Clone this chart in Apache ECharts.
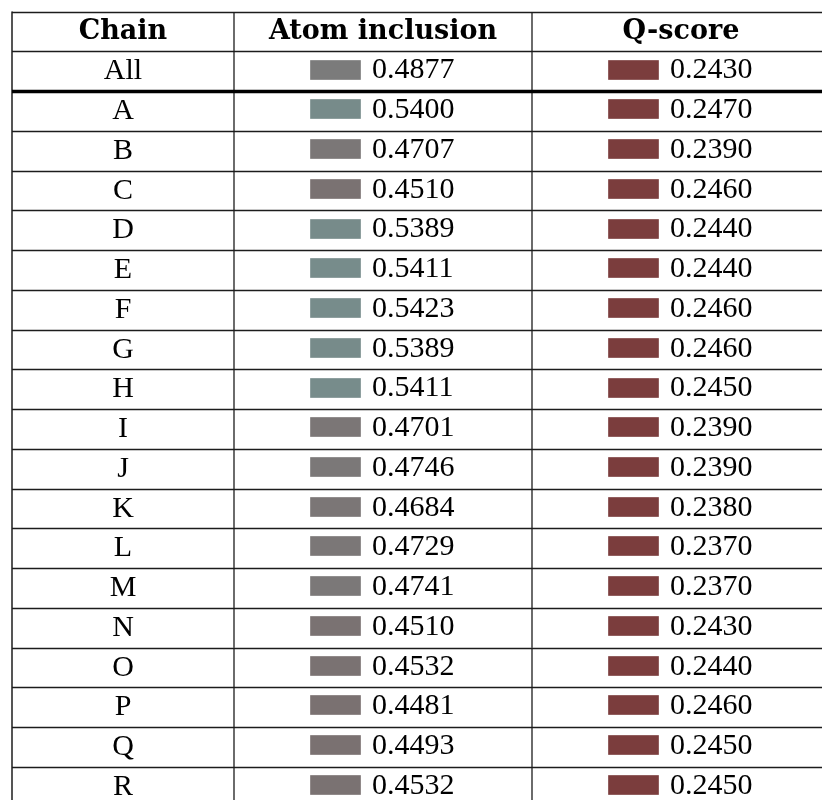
<!DOCTYPE html>
<html>
<head>
<meta charset="utf-8">
<script src="https://cdn.jsdelivr.net/npm/echarts@6/dist/echarts.min.js"></script>
<style>
html, body { margin: 0; padding: 0; background: #ffffff; }
#c { width: 822px; height: 800px; }
</style>
</head>
<body>
<div id="c"></div>
<script>
// ---- data ----
const headers = ['Chain', 'Atom inclusion', 'Q-score'];
const chains = ['All', 'A', 'B', 'C', 'D', 'E', 'F', 'G', 'H', 'I', 'J', 'K', 'L', 'M', 'N', 'O', 'P', 'Q', 'R'];
const atomInclusion = [0.4877, 0.5400, 0.4707, 0.4510, 0.5389, 0.5411, 0.5423, 0.5389, 0.5411, 0.4701, 0.4746, 0.4684, 0.4729, 0.4741, 0.4510, 0.4532, 0.4481, 0.4493, 0.4532];
const qScore = [0.2430, 0.2470, 0.2390, 0.2460, 0.2440, 0.2440, 0.2460, 0.2460, 0.2450, 0.2390, 0.2390, 0.2380, 0.2370, 0.2370, 0.2430, 0.2440, 0.2460, 0.2450, 0.2450];

// ---- layout (not data) ----
const colEdges = [0, 222, 520, 818];
const ROW_H = 39.74;
const LINE = '#1c1c1c';
const SERIF = '"Liberation Serif", "Times New Roman", serif';
const BOLD = '"DejaVu Serif", serif';

const rowsCat = [headers[0]].concat(chains);

const chart = echarts.init(document.getElementById('c'), null, { renderer: 'canvas' });

function cellGeom(api, col, r) {
  const xL = api.coord([colEdges[col], r])[0];
  const xR = api.coord([colEdges[col + 1], r])[0];
  const yC = api.coord([0, r])[1];
  const h = api.size([0, 1])[1];
  return { xL, xR, yC, h };
}

function valueRenderer(col) {
  return function (params, api) {
    const v = api.value(0);
    const r = api.value(1);
    const g = cellGeom(api, col, r);
    const cx = (g.xL + g.xR) / 2;
    const sw = 51, gap = 11, tw = 84;
    const sx = Math.round(cx - (sw + gap + tw) / 2);
    const color = api.visual('color');
    return {
      type: 'group',
      children: [
        { type: 'line', shape: { x1: g.xL, y1: g.yC - g.h / 2, x2: g.xL, y2: g.yC + g.h / 2 },
          style: { stroke: LINE, lineWidth: 1.3 } },
        { type: 'rect', shape: { x: sx, y: Math.round(g.yC - 12), width: sw, height: 20 },
          style: { fill: color, stroke: 'rgba(255,255,255,0.35)', lineWidth: 1 } },
        { type: 'text', style: { text: v.toFixed(4), x: sx + sw + gap, y: g.yC - 1, align: 'left', verticalAlign: 'middle',
          font: '30px ' + SERIF, fill: '#000' } }
      ]
    };
  };
}

function headerRenderer(params, api) {
  const col = api.value(0);
  const r = api.value(1);
  const g = cellGeom(api, col, r);
  return {
    type: 'group',
    children: [
      { type: 'line', shape: { x1: g.xL, y1: g.yC - g.h / 2, x2: g.xL, y2: g.yC + g.h / 2 },
        style: { stroke: LINE, lineWidth: 1.3 } },
      { type: 'text', style: { text: headers[col], x: (g.xL + g.xR) / 2, y: g.yC, align: 'center', verticalAlign: 'middle',
        font: 'bold 27px ' + BOLD, fill: '#000' } }
    ]
  };
}

function ruleRenderer(params, api) {
  const r = api.value(1);
  const xL = api.coord([colEdges[0], r])[0];
  const xR = api.coord([colEdges[3], r])[0];
  const yC = api.coord([0, r])[1];
  const h = api.size([0, 1])[1];
  const y = yC + h / 2;
  return { type: 'line', shape: { x1: xL, y1: y, x2: xR, y2: y }, style: { stroke: '#000', lineWidth: 3.4 } };
}

const atomData = atomInclusion.map((v, i) => [v, i + 1]);
const qData = qScore.map((v, i) => [v, i + 1]);

chart.setOption({
  animation: false,
  backgroundColor: '#ffffff',
  grid: { left: 12, top: 12, width: 818, height: ROW_H * rowsCat.length, containLabel: false, outerBoundsMode: 'none' },
  xAxis: { type: 'value', min: 0, max: 818, show: false },
  yAxis: {
    type: 'category',
    inverse: true,
    data: rowsCat,
    axisLine: { show: true, lineStyle: { color: LINE, width: 1.5 } },
    axisTick: { show: false },
    splitLine: { show: true, interval: 0, lineStyle: { color: LINE, width: 1.3 } },
    axisLabel: {
      inside: true,
      interval: 0,
      margin: 111,
      align: 'center',
      verticalAlign: 'middle',
      color: '#000',
      fontFamily: SERIF,
      fontSize: 30,
      formatter: function (val, idx) { return idx === 0 ? '{h|' + val + '}' : val; },
      rich: { h: { fontFamily: BOLD, fontWeight: 'bold', fontSize: 27, color: '#000' } }
    }
  },
  visualMap: {
    type: 'continuous', show: false, seriesIndex: 0, dimension: 0,
    min: 0.4331, max: 0.5423,
    inRange: { color: ['#7a6d6d', '#7b7b7b', '#778c8b'] }
  },
  series: [
    { name: headers[1], type: 'custom', data: atomData, renderItem: valueRenderer(1),
      dimensions: ['value', 'row'], encode: { y: 1 } },
    { name: headers[2], type: 'custom', data: qData, renderItem: valueRenderer(2),
      itemStyle: { color: '#7b3d3d' }, dimensions: ['value', 'row'], encode: { y: 1 } },
    { name: 'headers', type: 'custom', data: [[1, 0], [2, 0]], renderItem: headerRenderer, encode: { y: 1 } },
    { name: 'rule', type: 'custom', data: [[0, 1]], renderItem: ruleRenderer, encode: { y: 1 } }
  ]
});
</script>
</body>
</html>
